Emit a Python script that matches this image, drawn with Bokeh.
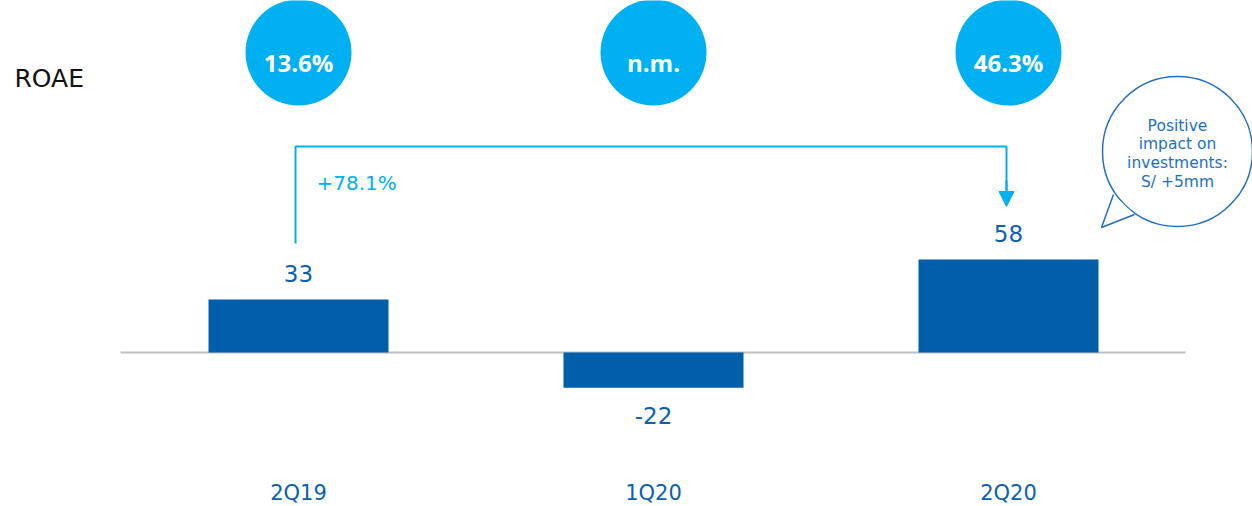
from bokeh.plotting import figure
from bokeh.models import Range1d, Arrow, NormalHead
from bokeh.core.properties import value
from bokeh.embed import file_html
from bokeh.resources import INLINE

# ---- data ----
categories = ["2Q19", "1Q20", "2Q20"]
net_income = [33, -22, 58]
roae_labels = ["13.6%", "n.m.", "46.3%"]
growth_label = "+78.1%"
note_lines = ["Positive", "impact on", "investments:", "S/ +5mm"]

# ---- layout helpers (page pixels -> data) ----
W, H = 1252, 506
ORIG_X, ORIG_Y = 0, 0          # page position of the figure's top-left corner
PX_PER_X = 355.0
PX_PER_Y = 1.605
X0_PIX, Y0_PIX = 298.0, 352.0   # page position of category 0 / value 0

def dx(xpix):
    return (xpix - X0_PIX) / PX_PER_X

def dy(ypix):
    return (Y0_PIX - ypix) / PX_PER_Y

xs = list(range(len(categories)))

p = figure(width=W, height=H, output_backend="svg", toolbar_location=None,
           x_axis_location=None, y_axis_location=None,
           x_range=Range1d(dx(ORIG_X), dx(ORIG_X + W)),
           y_range=Range1d(dy(ORIG_Y + H), dy(ORIG_Y)),
           min_border=0, outline_line_color=None)
p.xgrid.visible = False
p.ygrid.visible = False
p.background_fill_color = "white"
p.border_fill_color = "white"

BAR = "#005EAB"
LIGHT = "#00B0F0"
DARK_TXT = "#0D5FAF"
FONT = value("DejaVu Sans")

# baseline
p.line([dx(120), dx(1185)], [0, 0], line_color="#BFBFBF", line_width=2)

# bars
p.vbar(x=xs, top=net_income, bottom=0, width=180 / PX_PER_X, fill_color=BAR, line_color=None)

# value labels
offs = [-26 if v >= 0 else 28 for v in net_income]
p.text(x=xs, y=net_income, text=[str(v) for v in net_income], y_offset=offs,
       text_align="center", text_baseline="middle", text_color=DARK_TXT,
       text_font=FONT, text_font_size="23px")

# category labels
p.text(x=xs, y=[dy(492)] * len(xs), text=categories,
       text_align="center", text_baseline="middle", text_color=DARK_TXT,
       text_font=FONT, text_font_size="21px")

# ROAE circles
p.scatter(x=xs, y=[dy(52)] * len(xs), size=106, marker="circle",
          fill_color=LIGHT, line_color=None)
p.text(x=xs, y=[dy(62)] * len(xs), text=roae_labels,
       text_align="center", text_baseline="middle", text_color="white",
       text_font=value("Open Sans"), text_font_style="bold", text_font_size="24px")

p.text(x=[dx(14)], y=[dy(78)], text=["ROAE"], text_align="left", text_baseline="middle",
       text_color="#111111", text_font=FONT, text_font_size="25px")

# growth bracket
xl = dx(295)
xr = xs[2] + dx(1006) - dx(1008)
p.line([xl, xl, xr, xr], [dy(243), dy(146), dy(146), dy(191)], line_color=LIGHT, line_width=2)
p.add_layout(Arrow(end=NormalHead(size=15, fill_color=LIGHT, line_color=LIGHT, line_width=1),
                   x_start=xr, y_start=dy(180), x_end=xr, y_end=dy(206),
                   line_color=LIGHT, line_width=2))
p.text(x=[dx(316)], y=[dy(182)], text=[growth_label], text_align="left", text_baseline="middle",
       text_color=LIGHT, text_font=FONT, text_font_size="20px")

# speech bubble
BUB = "#1F6FC0"
p.ellipse(x=[dx(1177)], y=[dy(151)], width=150 / PX_PER_X, height=150 / PX_PER_Y,
          fill_color="white", line_color=BUB, line_width=1.5)
tail_x = [dx(1113), dx(1101), dx(1134)]
tail_y = [dy(194), dy(227), dy(214)]
p.patch(tail_x, tail_y, fill_color="white", line_color=None)
p.line(tail_x, tail_y, line_color=BUB, line_width=1.5)
p.text(x=[dx(1177)] * 4, y=[dy(125), dy(143.5), dy(162), dy(181)], text=note_lines,
       text_align="center", text_baseline="middle", text_color=BUB,
       text_font=FONT, text_font_size="15.5px")

open("out.html", "w").write(file_html(p, INLINE))
